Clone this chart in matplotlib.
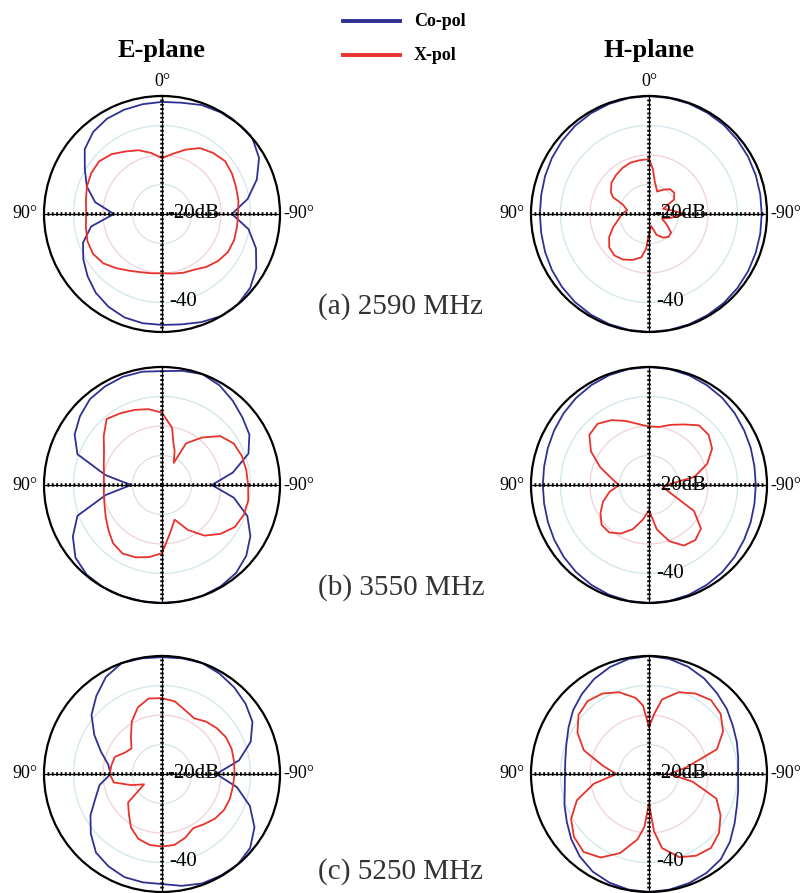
import matplotlib.pyplot as plt
import numpy as np

plt.rcParams['font.family'] = ['Liberation Serif', 'DejaVu Serif']

W, H = 811, 893
R = 118  # plot radius in px

# angles in degrees: 0 at top, counter-clockwise (90 = left, 270 = -90 = right)
ANG10 = list(range(0, 360, 10))

# ---- (a) 2590 MHz, levels in dB ----
e_a_co = [-2.0, -2.2, -2.4, -2.7, -3.7, -5.8, -9.8, -12.9, -17.0, -23.7, -15.6, -11.5,
          -9.2, -7.1, -5.1, -3.7, -2.7, -2.4, -2.4, -2.0, -1.0, 0.0, 0.0, -1.0,
          -3.1, -6.1, -10.2, -16.3, -10.5, -5.8, -2.0, 0.0, 0.0, -0.2, -0.7, -1.7]
e_a_x = [-21.1, -19.0, -17.0, -15.5, -13.5, -12.2, -12.3, -12.9, -13.8, -14.3, -13.8, -13.1,
         -13.0, -14.0, -16.0, -17.8, -19.0, -19.6, -19.9, -19.5, -18.8, -18.2, -16.6, -15.2,
         -14.2, -14.0, -14.2, -14.2, -13.7, -13.3, -12.6, -12.1, -13.0, -14.2, -16.8, -19.3]
h_a_co = [0.0, -0.1, -0.3, -0.6, -1.0, -1.5, -2.0, -2.5, -2.9, -3.0, -2.9, -2.5,
          -2.0, -1.5, -1.0, -0.6, -0.3, -0.1, 0.0, -0.1, -0.2, -0.4, -0.6, -0.9,
          -1.2, -1.5, -1.7, -1.8, -1.7, -1.5, -1.2, -0.9, -0.6, -0.4, -0.2, -0.1]
h_a_x_ang = [0, 10, 20, 30, 40, 50, 60, 65, 70, 80, 90, 100, 110, 120, 130, 140, 150, 160,
             170, 175, 180, 190, 200, 210, 220, 230, 240, 250, 260, 270, 280, 290, 300,
             310, 320, 330, 340, 350, 355]
h_a_x = [-21.4, -21.5, -21.5, -22.0, -22.7, -23.4, -25.1, -26.5, -30.5, -32.5, -30.8, -29.5,
         -27.1, -24.4, -22.4, -21.7, -22.2, -23.4, -25.1, -28.1, -33.2, -35.9, -32.5, -30.8,
         -29.8, -30.2, -33.2, -35.3, -32.5, -27.8, -32.5, -34.9, -30.2, -28.8, -29.0, -30.5,
         -31.9, -28.8, -24.7]

# ---- (b) 3550 MHz ----
e_b_co = [-1.4, -1.0, -1.0, -1.4, -2.0, -3.7, -5.8, -9.5, -20.5, -29.5, -20.7, -9.5,
          -5.1, -1.7, -0.3, 0.0, 0.0, 0.0, 0.0, 0.0, 0.0, -0.3, -1.0, -2.7,
          -5.4, -9.2, -15.3, -23.1, -15.6, -8.8, -5.8, -4.4, -2.7, -1.0, 0.0, -0.7]
e_b_x_ang = [0, 10, 20, 30, 40, 50, 60, 70, 80, 90, 100, 110, 120, 130, 140, 150, 160, 170,
             180, 190, 200, 210, 220, 230, 240, 250, 260, 270, 280, 290, 300, 310, 320,
             330, 332, 340, 345, 350]
e_b_x = [-15.5, -13.9, -12.9, -11.9, -10.8, -14.2, -17.3, -19.0, -20.0, -20.3, -20.0, -19.3,
         -18.0, -16.3, -14.2, -13.2, -13.9, -15.2, -16.9, -23.7, -27.5, -22.4, -17.6, -14.2,
         -11.5, -10.5, -10.3, -10.8, -11.0, -11.2, -11.9, -14.2, -19.0, -23.7, -31.5, -27.5,
         -25.1, -20.3]
h_b_co = [0.0, -0.1, -0.4, -0.9, -1.5, -2.2, -2.9, -3.5, -3.9, -4.0, -3.9, -3.5,
          -2.9, -2.2, -1.5, -0.9, -0.4, -0.1, 0.0, -0.1, -0.4, -0.9, -1.4, -2.1,
          -2.8, -3.3, -3.7, -3.8, -3.7, -3.3, -2.8, -2.1, -1.4, -0.9, -0.4, -0.1]
h_b_x = [-20.2, -19.0, -16.9, -14.6, -12.9, -13.6, -17.3, -22.4, -27.1, -29.8, -26.4, -23.4,
         -21.0, -19.0, -19.0, -21.0, -24.1, -28.1, -31.5, -24.7, -19.7, -16.3, -15.6, -17.0,
         -22.4, -32.5, -34.9, -34.2, -24.4, -19.0, -15.3, -13.6, -13.6, -16.3, -18.3, -20.0]

# ---- (c) 5250 MHz ----
e_c_co = [-0.4, -0.2, 0.0, -2.0, -5.4, -8.8, -13.5, -18.0, -21.5, -22.6, -18.5, -16.0,
          -12.0, -8.5, -5.2, -3.8, -2.8, -2.7, -2.7, -1.5, -0.5, -0.2, 0.0, -1.0,
          -3.8, -8.3, -14.2, -21.6, -13.5, -8.0, -4.6, -3.0, -1.8, -0.8, 0.0, -0.2]
e_c_x = [-14.3, -14.0, -16.0, -19.5, -23.6, -26.5, -25.5, -23.0, -22.6, -22.3, -23.4, -29.0,
         -33.0, -25.0, -22.5, -19.0, -16.6, -15.6, -15.4, -15.6, -17.0, -18.8, -17.8, -16.5,
         -15.7, -15.5, -15.6, -15.4, -15.2, -14.9, -15.0, -15.8, -16.8, -18.2, -17.0, -15.0]
h_c_co = [0.0, -0.4, -1.4, -2.8, -4.6, -6.4, -8.5, -10.2, -11.2, -11.5, -11.0, -9.5,
          -7.8, -5.6, -3.5, -1.8, -0.8, -0.2, 0.0, -0.2, -0.6, -1.2, -2.2, -4.2,
          -6.5, -8.3, -9.3, -9.8, -9.3, -8.3, -7.2, -5.6, -4.2, -2.6, -1.3, -0.4]
h_c_x_ang = [0, 5, 10, 20, 30, 40, 50, 60, 70, 80, 90, 100, 110, 120, 130, 140, 150, 160,
             170, 175, 180, 185, 190, 200, 210, 220, 230, 240, 250, 260, 270, 280, 290, 300,
             310, 320, 330, 340, 350, 355]
h_c_x = [-24.1, -16.7, -13.8, -10.5, -8.5, -7.7, -8.8, -12.0, -16.5, -24.2, -28.9, -21.0,
         -14.0, -9.5, -6.8, -5.5, -7.3, -11.5, -17.5, -22.0, -30.0, -20.5, -14.5, -10.0,
         -8.0, -7.3, -9.0, -12.0, -15.7, -25.0, -33.0, -27.2, -15.5, -11.0, -8.3, -7.3,
         -8.5, -10.5, -14.3, -19.5]

BLUE = '#2e3192'
RED = '#e8322c'
RING_COLORS = ['#d6e4dc', '#f2d0d6', '#cfe6ea']


def fx(x):
    return x / W


def fy(y):
    return 1 - y / H


def closed(ang, vals):
    t = np.deg2rad(list(ang) + [ang[0] + 360])
    return t, list(vals) + [vals[0]]


def panel(fig, cx, cy, co, xp, x_ang=ANG10, db_labels=True, zero=False):
    ax = fig.add_axes([fx(cx - R), fy(cy + R), 2 * R / W, 2 * R / H], projection='polar')
    ax.set_theta_zero_location('N')
    ax.set_theta_direction(1)
    ax.set_ylim(-40, 0)
    ax.set_xticks([])
    ax.set_yticks([])
    ax.grid(False)
    ax.spines['polar'].set_linewidth(1.6)
    ax.spines['polar'].set_color('k')

    tt = np.linspace(0, 2 * np.pi, 361)
    for lvl, c in zip([-30, -20, -10], RING_COLORS):
        ax.plot(tt, np.full_like(tt, lvl), color=c, lw=0.9, zorder=1)

    t, r = closed(ANG10, co)
    ax.plot(t, r, color=BLUE, lw=1.3, zorder=2)
    t, r = closed(x_ang, xp)
    ax.plot(t, r, color=RED, lw=1.3, zorder=2)

    for a in (0, 90, 180, 270):
        ax.plot(np.deg2rad([a, a]), [-40, 0], color='k', lw=0.9, zorder=4)
        ax.plot(np.deg2rad([a, a]), [-40, 0], color='k', lw=2.6,
                ls=(0, (0.5, 0.7)), zorder=4)

    fig.text(fx(cx - 137), fy(cy), '90°', fontsize=13, ha='center', va='center')
    fig.text(fx(cx + 137), fy(cy), '-90°', fontsize=13, ha='center', va='center')
    if zero:
        fig.text(fx(cx), fy(cy - 133), '0°', fontsize=13, ha='center', va='center')
    if db_labels:
        fig.text(fx(cx + 5), fy(cy), '-20dB', fontsize=15, ha='left', va='center',
                 zorder=5)
        fig.text(fx(cx + 21), fy(cy + 88), '-40', fontsize=15, ha='center',
                 va='center', zorder=5)
    return ax


fig = plt.figure(figsize=(W / 100, H / 100), dpi=100)

cx_e, cx_h = 162, 649
rows = [214, 485, 774]

panel(fig, cx_e, rows[0], e_a_co, e_a_x, zero=True)
panel(fig, cx_h, rows[0], h_a_co, h_a_x, x_ang=h_a_x_ang, zero=True)
panel(fig, cx_e, rows[1], e_b_co, e_b_x, x_ang=e_b_x_ang, db_labels=False)
panel(fig, cx_h, rows[1], h_b_co, h_b_x)
panel(fig, cx_e, rows[2], e_c_co, e_c_x)
panel(fig, cx_h, rows[2], h_c_co, h_c_x, x_ang=h_c_x_ang)

# column titles
fig.text(fx(cx_e), fy(50), 'E-plane', fontsize=19, fontweight='bold', ha='center', va='center')
fig.text(fx(cx_h), fy(50), 'H-plane', fontsize=19, fontweight='bold', ha='center', va='center')

# legend
fig.lines.append(plt.Line2D([fx(343), fx(400)], [fy(21), fy(21)], color=BLUE, lw=2.8,
                            transform=fig.transFigure))
fig.lines.append(plt.Line2D([fx(343), fx(400)], [fy(55), fy(55)], color=RED, lw=2.8,
                            transform=fig.transFigure))
fig.text(fx(414), fy(21), 'Co-pol', fontsize=13, fontweight='bold', va='center')
fig.text(fx(414), fy(55), 'X-pol', fontsize=13, fontweight='bold', va='center')

# frequency captions
for y, s in zip([307, 588, 872], ['(a) 2590 MHz', '(b) 3550 MHz', '(c) 5250 MHz']):
    fig.text(fx(318), fy(y), s, fontsize=21, ha='left', va='center', color='#333333')

plt.savefig('out.png', dpi=100)
